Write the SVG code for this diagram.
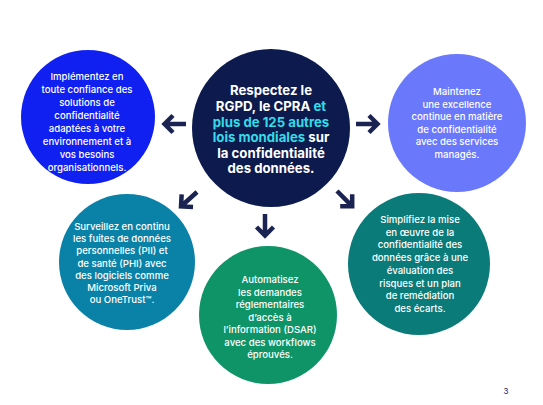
<svg xmlns="http://www.w3.org/2000/svg" xmlns:xlink="http://www.w3.org/1999/xlink" width="543" height="405" viewBox="0 0 543 405">
<style>
text{font-family:"Inter","Liberation Sans",sans-serif;text-anchor:middle;fill:#ffffff}
.s{font-size:9.6px;font-weight:500}
.c{font-size:13.2px;font-weight:700}
.hl{fill:#35dbe8}
.arr{fill:none;stroke:#1b2352;stroke-width:4.5;stroke-linejoin:miter;stroke-linecap:butt}
.pg{font-size:8px;fill:#1b2352}
</style>
<defs>
<path id="arrow" class="arr" d="M0,0 H22 M13,-8.5 L21.5,0 L13,8.5"/>
</defs>
<rect width="543" height="405" fill="#ffffff"/>
<g id="connectors">
<use xlink:href="#arrow" transform="translate(186,124) rotate(180)"/>
<use xlink:href="#arrow" transform="translate(356,124)"/>
<use xlink:href="#arrow" transform="translate(197,192) rotate(138)"/>
<use xlink:href="#arrow" transform="translate(265,214) rotate(90)"/>
<use xlink:href="#arrow" transform="translate(337,191) rotate(45)"/>
</g>
<g id="center">
<circle cx="271" cy="128" r="79" fill="#0c1a4d"/>
<text class="c" x="271" y="95">Respectez le</text>
<text class="c" x="271" y="111">RGPD, le CPRA <tspan class="hl">et</tspan></text>
<text class="c" x="271" y="126.5"><tspan class="hl">plus de 125 autres</tspan></text>
<text class="c" x="271" y="142"><tspan class="hl">lois mondiales</tspan> sur</text>
<text class="c" x="271" y="157.5">la confidentialité</text>
<text class="c" x="271" y="173">des données.</text>
</g>
<g id="n1">
<circle cx="88" cy="117" r="67" fill="#1020f0"/>
<text class="s" x="87" y="80">Implémentez en</text>
<text class="s" x="87" y="93">toute confiance des</text>
<text class="s" x="87" y="106">solutions de</text>
<text class="s" x="87" y="119">confidentialité</text>
<text class="s" x="87" y="132">adaptées à votre</text>
<text class="s" x="87" y="145">environnement et à</text>
<text class="s" x="87" y="158">vos besoins</text>
<text class="s" x="87" y="171">organisationnels.</text>
</g>
<g id="n2">
<circle cx="457" cy="123" r="69" fill="#6a78fc"/>
<text class="s" x="457" y="95">Maintenez</text>
<text class="s" x="457" y="107.5">une excellence</text>
<text class="s" x="457" y="120">continue en matière</text>
<text class="s" x="457" y="132.5">de confidentialité</text>
<text class="s" x="457" y="145">avec des services</text>
<text class="s" x="457" y="157.5">managés.</text>
</g>
<g id="n3">
<circle cx="127" cy="262" r="68" fill="#0a82a8"/>
<text class="s" x="122" y="230">Surveillez en continu</text>
<text class="s" x="122" y="242.2">les fuites de données</text>
<text class="s" x="122" y="254.4">personnelles (PII) et</text>
<text class="s" x="122" y="266.6">de santé (PHI) avec</text>
<text class="s" x="122" y="278.8">des logiciels comme</text>
<text class="s" x="122" y="291">Microsoft Priva</text>
<text class="s" x="122" y="303.2">ou OneTrust™.</text>
</g>
<g id="n4">
<circle cx="268" cy="315" r="69" fill="#0f9467"/>
<text class="s" x="270" y="283">Automatisez</text>
<text class="s" x="270" y="295.5">les demandes</text>
<text class="s" x="270" y="308">réglementaires</text>
<text class="s" x="270" y="320.5">d’accès à</text>
<text class="s" x="270" y="333">l’information (DSAR)</text>
<text class="s" x="270" y="345.5">avec des workflows</text>
<text class="s" x="270" y="358">éprouvés.</text>
</g>
<g id="n5">
<circle cx="419" cy="264" r="71" fill="#0b7b7a"/>
<text class="s" x="420" y="223">Simplifiez la mise</text>
<text class="s" x="420" y="235.7">en œuvre de la</text>
<text class="s" x="420" y="248.4">confidentialité des</text>
<text class="s" x="420" y="261.1">données grâce à une</text>
<text class="s" x="420" y="273.8">évaluation des</text>
<text class="s" x="420" y="286.5">risques et un plan</text>
<text class="s" x="420" y="299.2">de remédiation</text>
<text class="s" x="420" y="312">des écarts.</text>
</g>
<text class="pg" x="506" y="394">3</text>
</svg>
